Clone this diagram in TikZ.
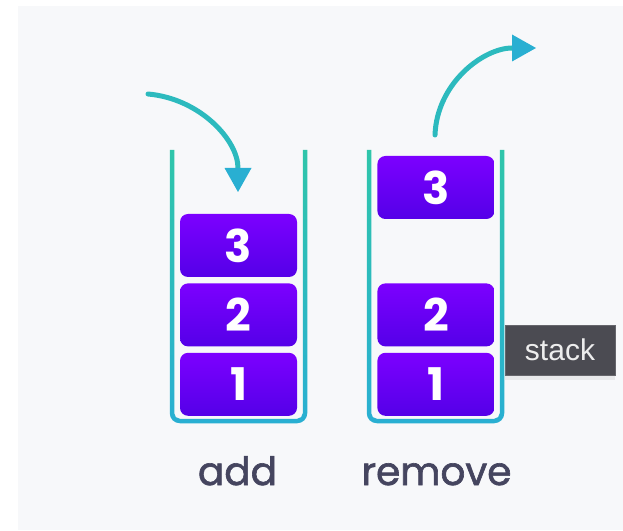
\documentclass[tikz,border=0pt]{standalone}
\usepackage{fontspec}
\usepackage{tikz}
\usetikzlibrary{positioning,arrows.meta,shadows}
\newfontfamily\popfont{Poppins}
\newfontfamily\wordfont{Poppins}[FakeBold=1.6]
\newfontfamily\tipfont{Liberation Sans}
\definecolor{bggray}{HTML}{F7F8FA}
\definecolor{tealtop}{HTML}{2FC5AA}
\definecolor{tealbot}{HTML}{29AFD2}
\definecolor{purtop}{HTML}{7C00FF}
\definecolor{purbot}{HTML}{5400E8}
\definecolor{labelgray}{HTML}{45455F}
\definecolor{tipgray}{HTML}{4B4B52}

\begin{document}
\begin{tikzpicture}[x=1pt,y=1pt,node distance=6pt,
	box/.style={rectangle,rounded corners=8pt,minimum width=117pt,minimum height=63pt,inner sep=0pt,top color=purtop,bottom color=purbot,text=white,font=\popfont\bfseries\fontsize{45}{45}\selectfont},
	word/.style={anchor=base,text=labelgray,font=\wordfont\fontsize{39}{39}\selectfont},
	move/.style={line width=5pt,line cap=round,tealtop!50!tealbot,-{Triangle[width=27pt,length=24pt,line width=0pt,color=tealbot]}}]
				
				\fill[white] (0,0) rectangle (623,530);
				\fill[bggray] (18,0) rectangle (623,524);
				\useasboundingbox (0,0) rectangle (623,530);
				
				% the two stacks
				\foreach \dx in {0pt,197pt}
				\shade[xshift=\dx,top color=tealtop,bottom color=tealbot]
				(169.75,380) -- (169.75,116.75) arc[start angle=180,end angle=270,radius=10] -- (297.25,106.75) arc[start angle=270,end angle=360,radius=10] -- (307.25,380)
				-- (302.75,380) -- (302.75,116.75) arc[start angle=0,end angle=-90,radius=5.5] -- (179.75,111.25) arc[start angle=270,end angle=180,radius=5.5] -- (174.25,380) -- cycle;
				
				\node[box] (a3) at (238.5,284.5) {3};
				\node[box] (a2) [below = of a3] {2};
				\node[box] (a1) [below = of a2] {1};
				\node[box] (r2) [right = 80pt of a2] {2};
				\node[box] (r1) [below = of r2] {1};
				\node[box] (r3) [above = 64pt of r2] {3};
				
				\node[word] (addlbl) at (237.5,45) {add};
				\node[word] (remlbl) at (436.5,45) {remove};
				
				\node[fill=tipgray,draw=tipgray!85!white,minimum width=110pt,minimum height=50pt,text=white!93!black,font=\tipfont\fontsize{30}{30}\selectfont,drop shadow={opacity=0.12,shadow xshift=0pt,shadow yshift=-5pt}] (tip) at (560,180) {stack};
				
				\coordinate (inS) at (148,436);
				\coordinate (inE) at (238,338);
				\coordinate (outS) at (435,395);
				\coordinate (outE) at (536,482);
				\draw[move] (inS) to [out=-5,in=90] (inE);
				\draw[move] (outS) to [out=88,in=180] (outE);
\end{tikzpicture}
\end{document}
